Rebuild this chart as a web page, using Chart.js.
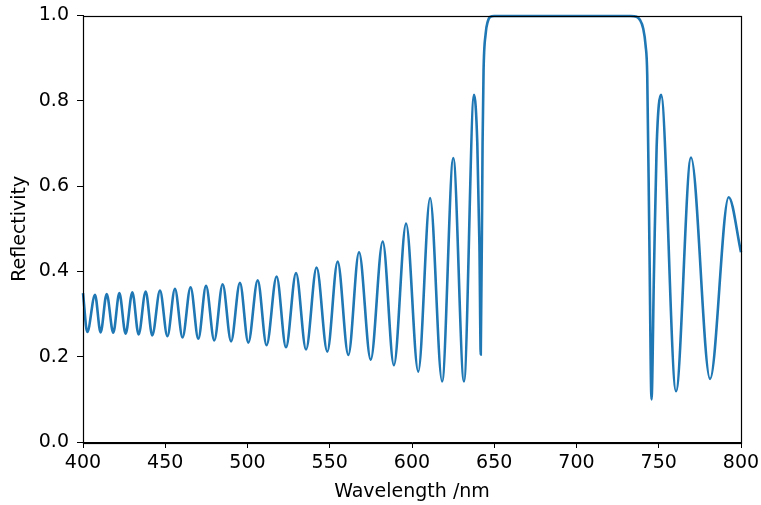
<!DOCTYPE html>
<html>
<head>
<meta charset="utf-8">
<script src="https://cdn.jsdelivr.net/npm/chart.js@4"></script>
<style>
  html, body { margin: 0; padding: 0; background: #fff; }
  canvas { display: block; }
</style>
</head>
<body>
<canvas id="myChart" width="761" height="505"></canvas>
<script>
const wavelength = [
    400, 402.6, 407.3, 410.7, 414.4, 418.4, 422.1, 425.9, 430.0, 433.8,
    438.1, 442.1, 446.8, 451.3, 455.9, 460.5, 465.4, 470.1, 474.8, 479.8,
    484.9, 490.0, 495.4, 500.5, 506.2, 511.6, 517.7, 523.4, 529.5, 535.6,
    542.0, 548.5, 554.8, 561.3, 567.8, 574.9, 582.2, 589.0, 596.4, 603.8,
    611.0, 618.3, 625.1, 631.6, 637.7, 639.7, 641.0, 641.8, 642.9, 643.5,
    644.8, 646.0, 647.5, 650, 700, 733, 736.5, 738.5, 740.5, 742,
    743, 744.3, 745.6, 747.1, 748.7, 751.4, 760.5, 769.6, 781.2, 792.5,
    800
];

const reflectivity = [
    0.349, 0.258, 0.345, 0.257, 0.347, 0.256, 0.349, 0.254, 0.351, 0.252,
    0.353, 0.250, 0.355, 0.248, 0.359, 0.245, 0.363, 0.242, 0.366, 0.238,
    0.370, 0.236, 0.373, 0.233, 0.379, 0.227, 0.388, 0.222, 0.396, 0.217,
    0.409, 0.212, 0.423, 0.204, 0.445, 0.193, 0.470, 0.180, 0.512, 0.165,
    0.572, 0.142, 0.666, 0.142, 0.814, 0.70, 0.46, 0.205, 0.70, 0.87,
    0.958, 0.985, 0.997, 0.999, 0.999, 0.999, 0.997, 0.99, 0.97, 0.93,
    0.86, 0.47, 0.10, 0.40, 0.69, 0.814, 0.119, 0.667, 0.148, 0.574,
    0.445
];

const xTicks = [400, 450, 500, 550, 600, 650, 700, 750, 800];
const yTicks = [0.0, 0.2, 0.4, 0.6, 0.8, 1.0];

const ctx = document.getElementById('myChart').getContext('2d');

// matplotlib-like full frame around the plot area
const frame = {
    id: 'frame',
    afterDatasetsDraw(chart) {
        const a = chart.chartArea;
        const c = chart.ctx;
        c.save();
        c.strokeStyle = '#000';
        c.lineWidth = 1.2;
        c.strokeRect(Math.round(a.left) + 0.5, Math.round(a.top) + 0.5,
            Math.round(a.right - a.left), Math.round(a.bottom - a.top));
        c.restore();
    }
};

const myChart = new Chart(ctx, {
    type: 'line',
    data: {
        datasets: [
            {
                data: wavelength.map((w, i) => ({ x: w, y: reflectivity[i] })),
                borderColor: '#1f77b4',
                borderWidth: 2.6,
                pointRadius: 0,
                cubicInterpolationMode: 'monotone',
                clip: 3
            }
        ]
    },
    options: {
        responsive: false,
        devicePixelRatio: 1,
        animation: false,
        layout: {
            padding: { left: 0, right: 20, top: 15.5, bottom: 0 }
        },
        plugins: {
            legend: { display: false },
            tooltip: { enabled: false }
        },
        scales: {
            x: {
                type: 'linear',
                min: 400,
                max: 800,
                afterBuildTicks: s => { s.ticks = xTicks.map(v => ({ value: v })); },
                afterFit: s => {
                    s.height = 63;
                    s.paddingLeft = 0;
                    s.paddingRight = 0;
                },
                grid: {
                    drawOnChartArea: false,
                    tickLength: 6,
                    color: '#000'
                },
                border: { color: '#000' },
                ticks: {
                    font: { family: 'DejaVu Sans', size: 19 },
                    color: '#000',
                    padding: 4,
                    maxRotation: 0
                },
                title: {
                    display: true,
                    text: 'Wavelength /nm',
                    font: { family: 'DejaVu Sans', size: 19 },
                    color: '#000',
                    padding: { top: 0, bottom: 2 }
                }
            },
            y: {
                min: 0,
                max: 1,
                afterBuildTicks: s => { s.ticks = yTicks.map(v => ({ value: v })); },
                afterFit: s => {
                    s.width = 83;
                    s.paddingTop = 0;
                    s.paddingBottom = 0;
                },
                grid: {
                    drawOnChartArea: false,
                    tickLength: 6,
                    color: '#000'
                },
                border: { color: '#000' },
                ticks: {
                    font: { family: 'DejaVu Sans', size: 19 },
                    color: '#000',
                    padding: 8,
                    callback: v => v.toFixed(1)
                },
                title: {
                    display: true,
                    text: 'Reflectivity',
                    font: { family: 'DejaVu Sans', size: 19 },
                    color: '#000',
                    padding: { top: 9, bottom: 0 }
                }
            }
        }
    },
    plugins: [frame]
});
</script>
</body>
</html>
